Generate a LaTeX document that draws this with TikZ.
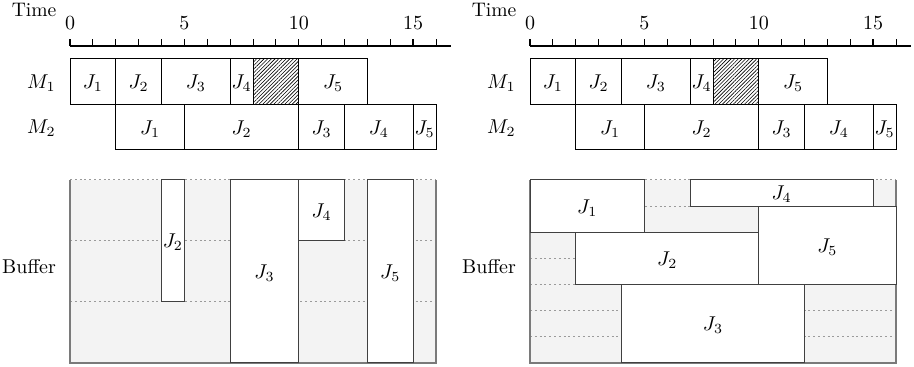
\documentclass[tikz,border=0pt]{standalone}
\usetikzlibrary{patterns.meta}
\definecolor{bufgray}{HTML}{F3F3F3}
\definecolor{dotgray}{HTML}{9A9A9A}
\definecolor{framegray}{HTML}{7A7A7A}
\newcommand\topchart[1]{%
  \node[baselab, font=\fontsize{9.8}{11}\selectfont] (#1time) at (-1.57,16.7) {Time};
  \foreach \t in {0,5,10,15} \node[baselab] (#1n\t) at (\t,29.3) {\t};
  \draw[line width=0.7pt] (0,46) -- (16.65,46);
  \foreach \t in {0,...,16} \draw[line width=0.5pt] (\t,46) -- (\t,39);
  \foreach \t in {0,5,10,15} \draw[line width=0.7pt] (\t,46) -- (\t,39);
  \node[lab] (#1m1) at (-1.25,81.4) {$M_1$};
  \node[lab] (#1m2) at (-1.25,127.1) {$M_2$};
  \draw[box, pattern={Lines[angle=45,distance=1.3pt,line width=0.3pt]}] (8,58.5) rectangle (10,104.25);
  \foreach \a/\b/\j in {0/2/1, 2/4/2, 4/7/3, 7/8/4, 10/13/5}
    \draw[box] (\a,58.5) rectangle (\b,104.25) node[midway,lab] (#1a\j) {$J_\j$};
  \foreach \a/\b/\j in {2/5/1, 5/10/2, 10/12/3, 12/15/4, 15/16/5}
    \draw[box] (\a,104.25) rectangle (\b,150) node[midway,lab] (#1b\j) {$J_\j$};
  \node[baselab] (#1buf) at (-1.79,273.5) {Buffer};
  \fill[bufgray] (0,180) rectangle (16,363);
}
\begin{document}
\begin{tikzpicture}[x=0.5pt,y=-0.5pt,
  box/.style={draw=black, line width=0.5pt},
  bbox/.style={draw=black!75, fill=white, line width=0.5pt},
  lab/.style={anchor=base, yshift=-3.45pt, inner sep=0pt},
  baselab/.style={anchor=base, inner sep=0pt},
  dotline/.style={draw=dotgray, line width=0.5pt, dash pattern=on 1pt off 1.4pt},
  frame/.style={draw=framegray, line width=0.6pt}]
\useasboundingbox (0,0) rectangle (914,367);
% left panel
\begin{scope}[xshift=35pt, x=11.4375pt, y=-0.5pt]
  \topchart{L}
  \foreach \y in {180,241,302} \draw[dotline] (0,\y) -- (16,\y);
  \draw[frame] (0,180) -- (0,363) -- (16,363) -- (16,180);
  \foreach \a/\b/\c/\d/\j in {4/5/180/302/2, 7/10/180/363/3, 10/12/180/241/4, 13/15/180/363/5}
    \draw[bbox] (\a,\c) rectangle (\b,\d) node[midway,lab] (Lc\j) {$J_\j$};
\end{scope}
% right panel
\begin{scope}[xshift=265pt, x=11.4375pt, y=-0.5pt]
  \topchart{R}
  \foreach \k in {0,...,6} \draw[dotline] (0,{180+\k*183/7}) -- (16,{180+\k*183/7});
  \draw[frame] (0,180) -- (0,363) -- (16,363) -- (16,180);
  \foreach \a/\b/\c/\d/\j in {0/5/180/232.29/1, 7/15/180/206.14/4, 2/10/232.29/284.57/2, 10/16/206.14/284.57/5, 4/12/284.57/363/3}
    \draw[bbox] (\a,\c) rectangle (\b,\d) node[midway,lab] (Rc\j) {$J_\j$};
\end{scope}
\end{tikzpicture}
\end{document}
